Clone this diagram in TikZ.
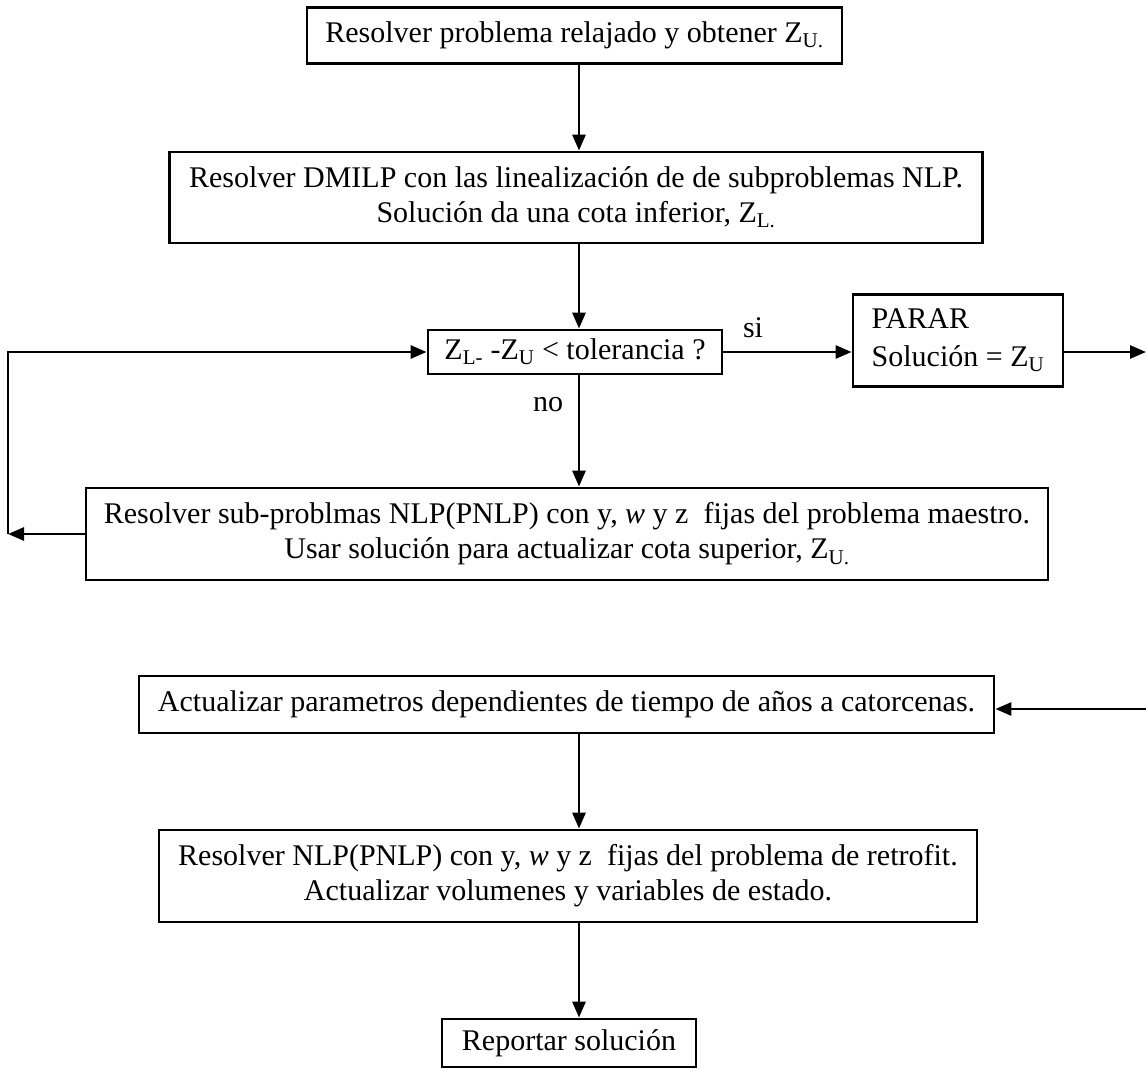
\documentclass[tikz,border=0pt]{standalone}
\usepackage{fontspec}
\setmainfont{Liberation Serif}
\usetikzlibrary{arrows.meta}
\begin{document}
\begin{tikzpicture}[x=1pt,y=-1pt,
  box/.style={draw, line width=2.8pt, inner sep=0pt, align=center,
    font=\fontsize{30}{35}\selectfont},
  flow/.style={line width=2.8pt, -{Triangle[length=16pt,width=13pt]}},
  lbl/.style={font=\fontsize{30}{35}\selectfont, inner sep=0pt}]
\useasboundingbox (0,0) rectangle (1146,1070);

% process boxes
\node[box, minimum width=535pt, minimum height=56pt] (b1) at (574.5,35.5)
  {Resolver problema relajado y obtener Z\textsubscript{U.}};
\node[box, minimum width=813pt, minimum height=91pt] (b2) at (576,197.5)
  {Resolver DMILP con las linealización de de subproblemas NLP.\\
   Solución da una cota inferior, Z\textsubscript{L.}};
\node[box, minimum width=294pt, minimum height=44pt] (dec) at (575,352)
  {Z\textsubscript{L-} -Z\textsubscript{U} < tolerancia ?};
\node[box, align=left, font=\fontsize{30}{38}\selectfont,
      minimum width=210pt, minimum height=92pt] (parar) at (958,340.5)
  {PARAR\\ Solución = Z\textsubscript{U}};
\node[box, minimum width=962pt, minimum height=92pt] (b4) at (567,534)
  {Resolver sub-problmas NLP(PNLP) con y, \textit{w} y z\ \ fijas del problema maestro.\\
   Usar solución para actualizar cota superior, Z\textsubscript{U.}};
\node[box, minimum width=855pt, minimum height=57pt] (b6) at (566.5,704.5)
  {Actualizar parametros dependientes de tiempo de años a catorcenas.};
\node[box, minimum width=818pt, minimum height=92pt] (b5) at (568,876)
  {Resolver NLP(PNLP) con y, \textit{w} y z\ \ fijas del problema de retrofit.\\
   Actualizar volumenes y variables de estado.};
\node[box, minimum width=254pt, minimum height=48pt] (b7) at (569,1043)
  {Reportar solución};

% auxiliary points for the connectors
\coordinate (ax) at (579,0);
\coordinate (lp) at (8,534);
\coordinate (outR) at (1146,352);
\coordinate (inR) at (1146,709);

% main vertical flow
\draw[flow] (b1.south -| ax) -- (b2.north -| ax);
\draw[flow] (b2.south -| ax) -- (dec.north -| ax);
\draw[flow] (dec.south -| ax) -- (b4.north -| ax);
\draw[flow] (b6.south -| ax) -- (b5.north -| ax);
\draw[flow] (b5.south -| ax) -- (b7.north -| ax);

% decision branches
\draw[flow] (dec.east) -- (dec.east -| parar.west);
\draw[flow] (parar.east |- dec.east) -- (outR);
\draw[flow] (b4.west) -- (lp);
\draw[flow] (lp) |- (dec.west);
\draw[flow] (inR) -- (inR -| b6.east);

% branch labels
\node[lbl] (si) at (753,328) {si};
\node[lbl] (no) at (548,405) {no};
\end{tikzpicture}
\end{document}
